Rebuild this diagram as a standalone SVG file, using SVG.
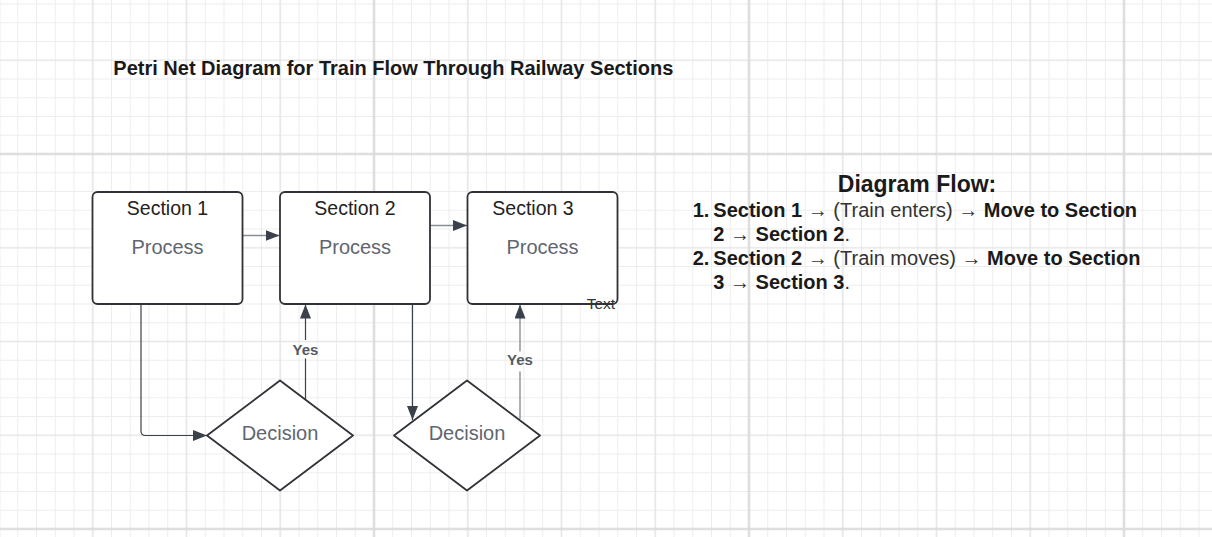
<svg xmlns="http://www.w3.org/2000/svg" width="1212" height="537" viewBox="0 0 1212 537">
<style>
text{font-family:"Liberation Sans",Arial,sans-serif}
.box{fill:#fff;stroke:#2f3338;stroke-width:1.8}
.dia{fill:#fff;stroke:#2f3338;stroke-width:1.8;stroke-linejoin:round}
.sec{font-size:19.5px;fill:#222;text-anchor:middle}
.proc{font-size:20px;fill:#5f6670;text-anchor:middle}
.con{fill:none;stroke:#3a414a;stroke-width:1.2}
.conl{fill:none;stroke:#8a8f96;stroke-width:1.4}
.lbl{font-size:15px;font-weight:bold;fill:#555b63;text-anchor:middle}
.b{font-weight:bold;fill:#1a1a1a}
.n{fill:#333}
</style>
<defs>
<pattern id="gMinor" patternUnits="userSpaceOnUse" x="-10.375" y="-5.375" width="18.75" height="18.75">
<path d="M9.375 0V18.75M0 9.375H18.75" stroke="#ededed" stroke-width="1" fill="none"/>
</pattern>
<pattern id="gMed" patternUnits="userSpaceOnUse" x="-47.875" y="13.375" width="93.75" height="93.75">
<path d="M46.875 0V93.75M0 46.875H93.75" stroke="#e3e3e3" stroke-width="1.2" fill="none"/>
</pattern>
<pattern id="gMajor" patternUnits="userSpaceOnUse" x="186.5" y="-33.5" width="375" height="375">
<path d="M187.5 0V375M0 187.5H375" stroke="#dadada" stroke-width="2" fill="none"/>
</pattern>
<marker id="arr" markerUnits="userSpaceOnUse" markerWidth="14" markerHeight="11" refX="14" refY="5.5" orient="auto">
<path d="M0 0L14 5.5L0 11z" fill="#3a414a"/>
</marker>
</defs>
<g id="grid">
<rect width="1212" height="537" fill="#fff"/>
<rect width="1212" height="537" fill="url(#gMinor)"/>
<rect width="1212" height="537" fill="url(#gMed)"/>
<rect width="1212" height="537" fill="url(#gMajor)"/>
</g>
<g id="title">
<text x="113.3" y="74.5" font-size="20" font-weight="bold" fill="#1a1a1a">Petri Net Diagram for Train Flow Through Railway Sections</text>
</g>
<g id="connectors">
<path class="conl" d="M242.5 235.5H279.5" marker-end="url(#arr)"/>
<path class="conl" d="M430 225.5H467" marker-end="url(#arr)"/>
<path class="con" d="M141 304V431Q141 435.5 145.5 435.5H207" marker-end="url(#arr)"/>
<path class="con" d="M305.5 399V358.5M305.5 340V304.5" marker-end="url(#arr)"/>
<path class="con" d="M412.5 304V420" marker-end="url(#arr)"/>
<path class="conl" d="M520 419V371.5M520 351.5V304.5" marker-end="url(#arr)"/>
<text class="lbl" x="305.5" y="355">Yes</text>
<text class="lbl" x="520" y="365">Yes</text>
</g>
<g id="section1">
<rect class="box" x="92.5" y="192" width="150" height="112" rx="5"/>
<text class="sec" x="167.5" y="215">Section 1</text>
<text class="proc" x="167.5" y="253.5">Process</text>
</g>
<g id="section2">
<rect class="box" x="280" y="192" width="150" height="112" rx="5"/>
<text class="sec" x="355" y="215">Section 2</text>
<text class="proc" x="355" y="253.5">Process</text>
</g>
<g id="section3">
<rect class="box" x="467.5" y="192" width="150" height="112" rx="5"/>
<text class="sec" x="533" y="215">Section 3</text>
<text class="proc" x="542.5" y="253.5">Process</text>
<text x="586.7" y="309" font-size="15.5" fill="#333">Text</text>
</g>
<g id="decision1">
<path class="dia" d="M207 435.5L280 380.5L353 435.5L280 490.5Z"/>
<text class="proc" x="280" y="439.5">Decision</text>
</g>
<g id="decision2">
<path class="dia" d="M394 435.5L467 380.5L540 435.5L467 490.5Z"/>
<text class="proc" x="467" y="439.5">Decision</text>
</g>
<g id="flow-text">
<text x="917" y="191.7" font-size="23" font-weight="bold" fill="#1a1a1a" text-anchor="middle">Diagram Flow:</text>
<text font-size="20">
<tspan class="b" x="692.7" y="217.3">1.</tspan>
<tspan x="713.3" y="217.3" class="b">Section 1</tspan><tspan class="n"> → (Train enters) → </tspan><tspan class="b">Move to Section</tspan>
<tspan x="713.3" y="241" class="b">2</tspan><tspan class="n"> → </tspan><tspan class="b">Section 2</tspan><tspan class="n">.</tspan>
<tspan class="b" x="692.7" y="265">2.</tspan>
<tspan x="713.3" y="265" class="b">Section 2</tspan><tspan class="n"> → (Train moves) → </tspan><tspan class="b">Move to Section</tspan>
<tspan x="713.3" y="289" class="b">3</tspan><tspan class="n"> → </tspan><tspan class="b">Section 3</tspan><tspan class="n">.</tspan>
</text>
</g>
</svg>
